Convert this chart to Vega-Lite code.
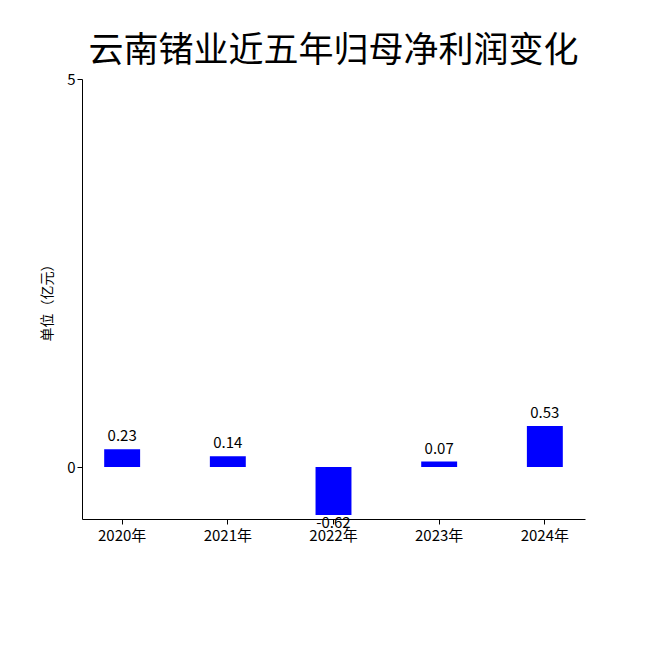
{
  "$schema": "https://vega.github.io/schema/vega-lite/v6.json",
  "width": 503,
  "height": 440,
  "autosize": {"type": "none"},
  "padding": {"left": 82, "top": 79, "right": 65, "bottom": 131},
  "background": "white",
  "title": {
    "text": "云南锗业近五年归母净利润变化",
    "fontSize": 35,
    "fontWeight": "normal",
    "font": "Noto Sans CJK SC",
    "color": "black",
    "anchor": "middle",
    "offset": 3
  },
  "data": {
    "values": [
      {"year": "2020年", "profit": 0.23},
      {"year": "2021年", "profit": 0.14},
      {"year": "2022年", "profit": -0.62},
      {"year": "2023年", "profit": 0.07},
      {"year": "2024年", "profit": 0.53}
    ]
  },
  "encoding": {
    "x": {
      "field": "year",
      "type": "nominal",
      "sort": null,
      "title": null,
      "scale": {"paddingInner": 0.66, "paddingOuter": 0.21},
      "axis": {"labelAngle": 0, "labelFontSize": 15, "labelPadding": 4, "tickSize": 5}
    },
    "y": {
      "field": "profit",
      "type": "quantitative",
      "title": "单位（亿元）",
      "scale": {"domain": [-0.67, 5], "nice": false, "zero": false},
      "axis": {"values": [0, 5], "grid": false, "labelFontSize": 15, "tickSize": 5, "titleFontSize": 14, "titleFontWeight": "normal", "titlePadding": 12}
    }
  },
  "layer": [
    {"mark": {"type": "bar", "color": "#0000ff"}},
    {
      "transform": [{"filter": "datum.profit >= 0"}],
      "mark": {"type": "text", "baseline": "alphabetic", "dy": -8, "fontSize": 15, "font": "Noto Sans CJK SC", "color": "black"},
      "encoding": {"text": {"field": "profit", "type": "nominal"}}
    },
    {
      "transform": [{"filter": "datum.profit < 0"}],
      "mark": {"type": "text", "baseline": "top", "dy": 1, "fontSize": 15, "font": "Noto Sans CJK SC", "color": "black"},
      "encoding": {"text": {"field": "profit", "type": "nominal"}}
    }
  ],
  "config": {
    "view": {"stroke": null},
    "font": "Noto Sans CJK SC",
    "axis": {"domainColor": "black", "tickColor": "black", "labelColor": "black", "titleColor": "black", "labelFont": "Noto Sans CJK SC", "titleFont": "Noto Sans CJK SC"}
  }
}
